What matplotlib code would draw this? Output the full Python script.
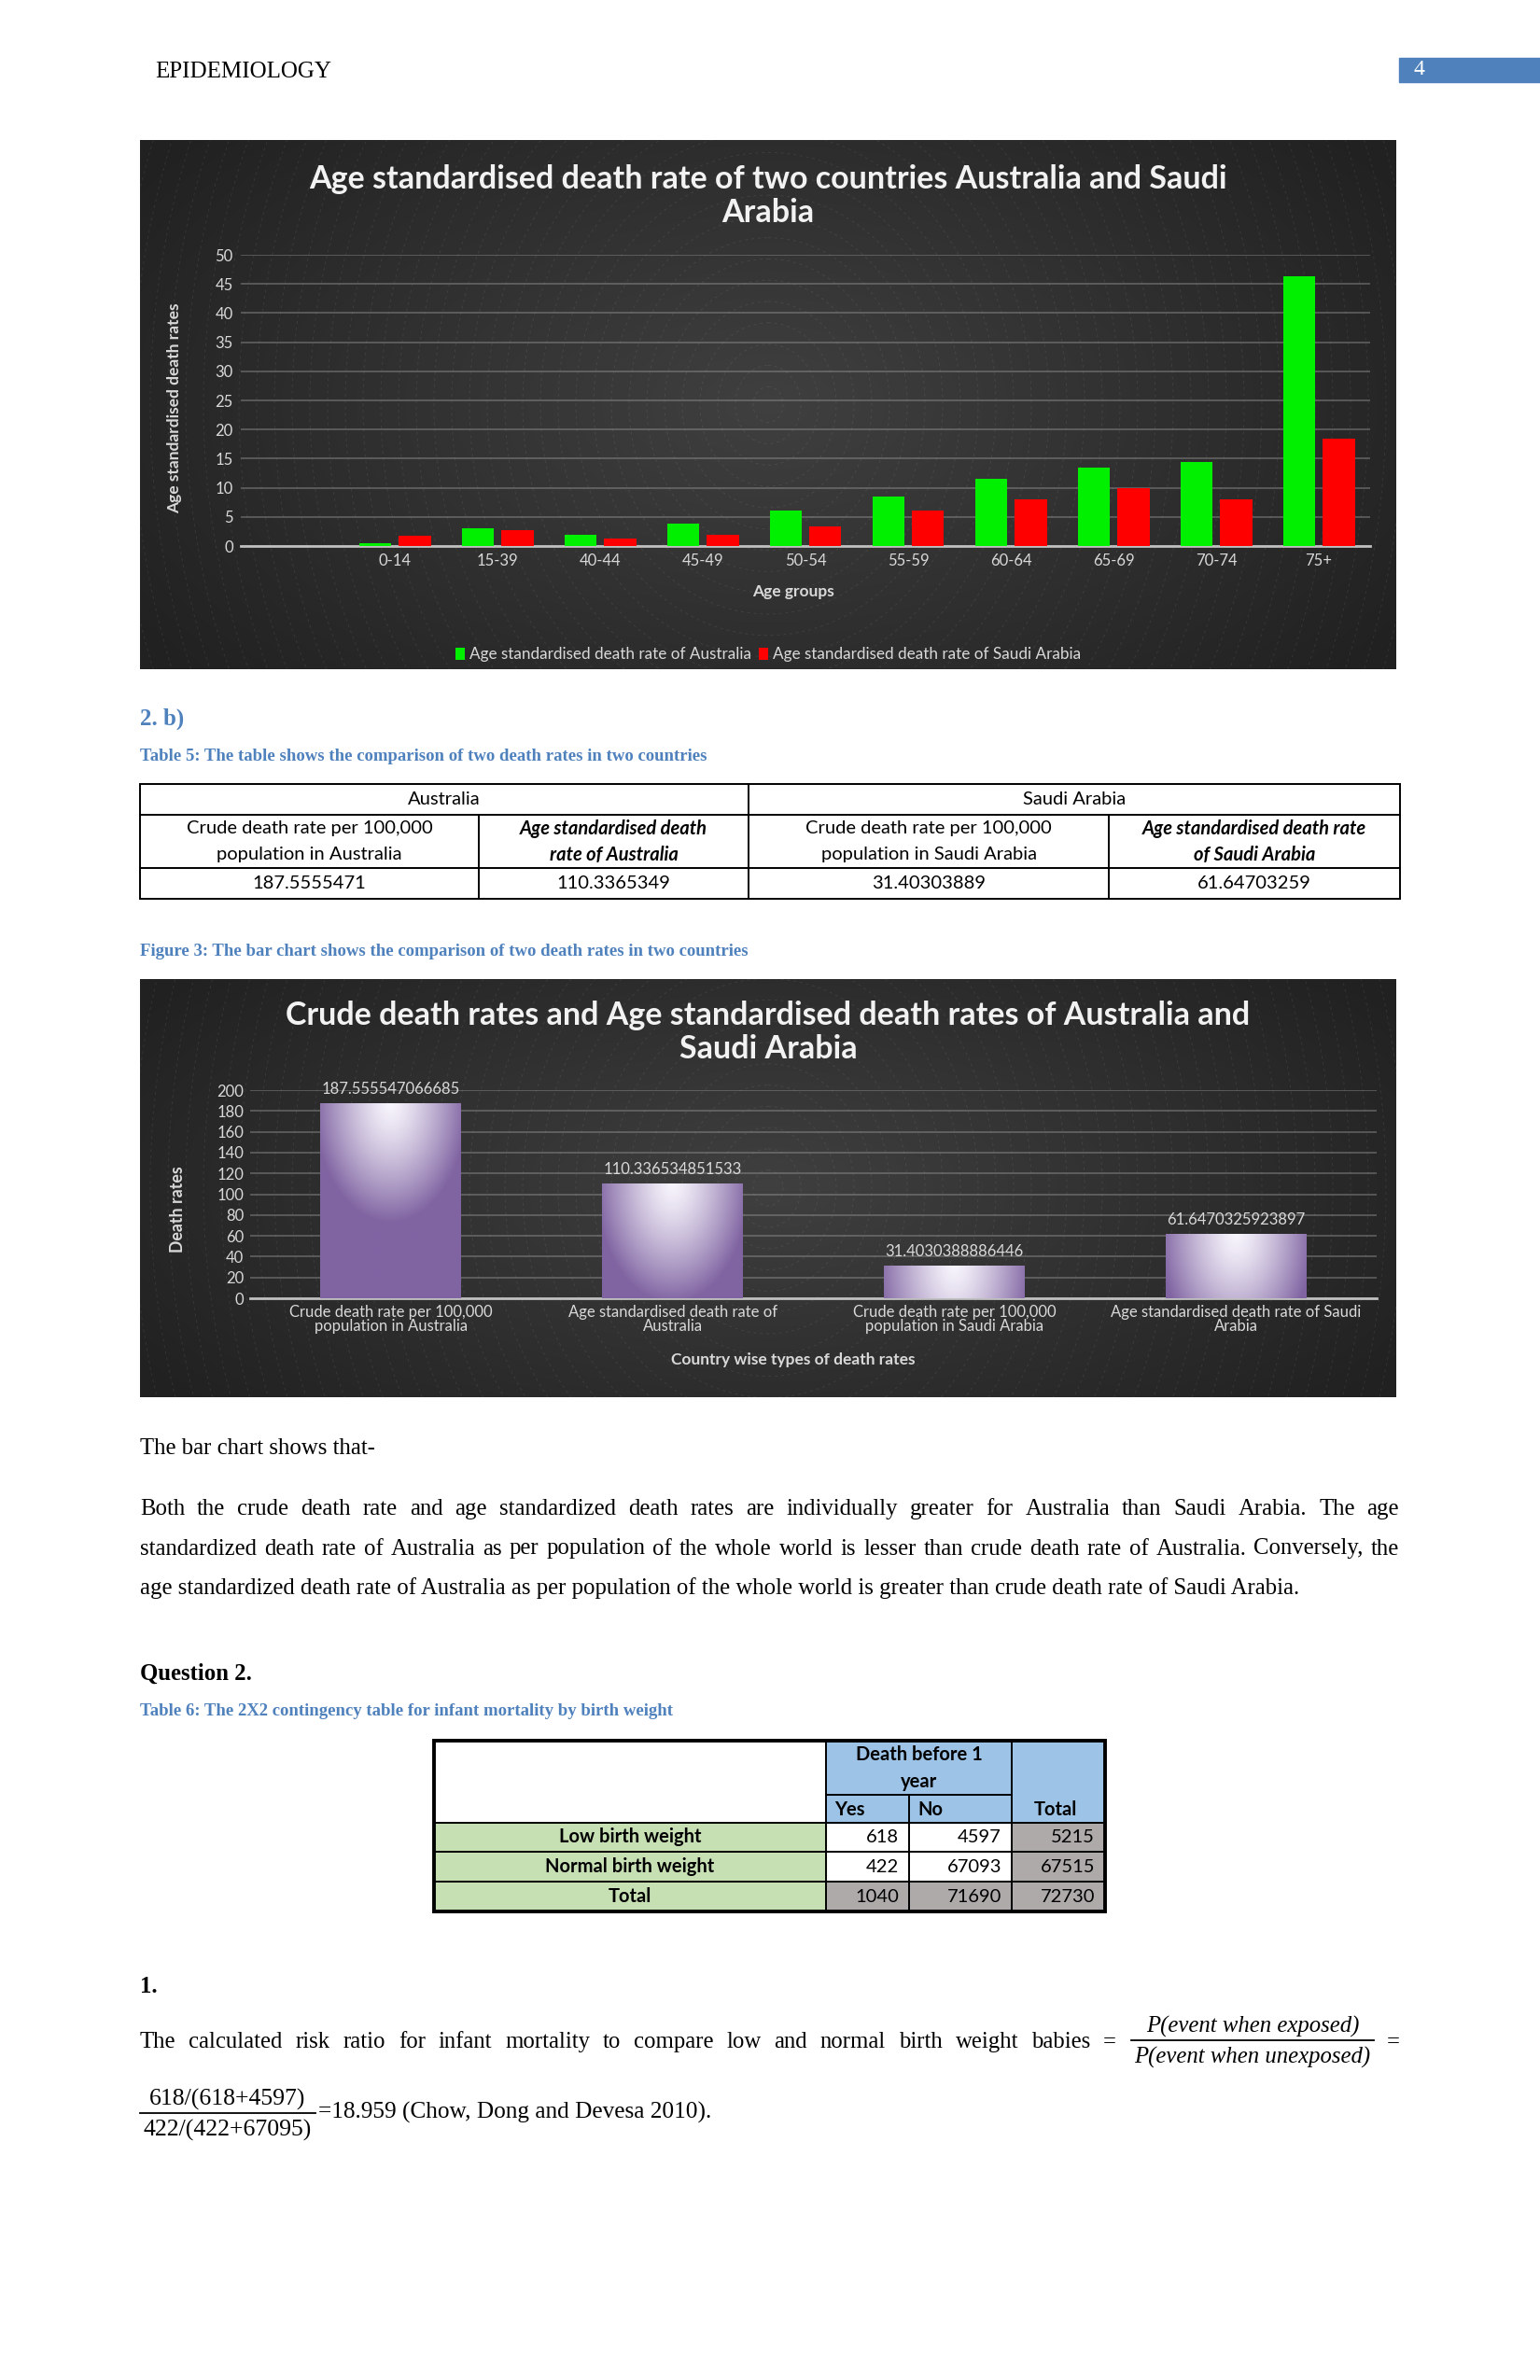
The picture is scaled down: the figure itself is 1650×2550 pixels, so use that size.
import numpy as np
import matplotlib.pyplot as plt
from matplotlib.patches import Rectangle, Ellipse

# ---- data ----
age_groups = ["0-14", "15-39", "40-44", "45-49", "50-54", "55-59", "60-64", "65-69", "70-74", "75+"]
aus_asdr = [0.45, 3.0, 2.0, 3.8, 6.1, 8.5, 11.5, 13.5, 14.5, 46.3]
sau_asdr = [1.7, 2.7, 1.3, 1.9, 3.4, 6.1, 8.0, 10.0, 8.0, 18.4]

rate_types = ["Crude death rate per 100,000\npopulation in Australia",
              "Age standardised death rate of\nAustralia",
              "Crude death rate per 100,000\npopulation in Saudi Arabia",
              "Age standardised death rate of Saudi\nArabia"]
rate_values = [187.555547066685, 110.336534851533, 31.4030388886446, 61.6470325923897]

t5_countries = ["Australia", "Saudi Arabia"]
t5_headers = [["Crude death rate per 100,000", "population in Australia"],
              ["Age standardised death", "rate of Australia"],
              ["Crude death rate per 100,000", "population in Saudi Arabia"],
              ["Age standardised death rate", "of Saudi Arabia"]]
t5_values = ["187.5555471", "110.3365349", "31.40303889", "61.64703259"]

t6_rows = ["Low birth weight", "Normal birth weight", "Total"]
t6_yes = [618, 422, 1040]
t6_no = [4597, 67093, 71690]
t6_total = [5215, 67515, 72730]

paragraph = [
    "Both the crude death rate and age standardized death rates are individually greater for Australia than Saudi Arabia. The age",
    "standardized death rate of Australia as per population of the whole world is lesser than crude death rate of Australia. Conversely, the",
    "age standardized death rate of Australia as per population of the whole world is greater than crude death rate of Saudi Arabia.",
]

BLUE = "#4f81bd"
SERIF = "Liberation Serif"
LIGHT = "#d9d9d9"
FS = 12          # chart text
FT = 14.5        # table text

plt.rcParams["font.family"] = ["Lato", "DejaVu Sans"]

W, H = 1650, 2550
fig = plt.figure(figsize=(W / 100, H / 100), dpi=100)
page = fig.add_axes([0, 0, 1, 1])
page.axis("off")
renderer = fig.canvas.get_renderer()


def axes_px(x0, y0, x1, y1):
    ax = fig.add_axes([x0 / W, 1 - y1 / H, (x1 - x0) / W, (y1 - y0) / H])
    ax.patch.set_alpha(0)
    return ax


def chart_bg(x0, y0, x1, y1):
    yy, xx = np.mgrid[0:1:300j, 0:1:700j]
    r = np.hypot((xx - 0.5) / 0.6, (yy - 0.5) / 0.8)
    shade = 0.25 - 0.12 * np.clip(r, 0, 1)
    page.imshow(np.dstack([shade] * 3), extent=(x0, x1, y1, y0), aspect="auto",
                zorder=0, interpolation="bilinear")
    clip = Rectangle((x0, y0), x1 - x0, y1 - y0, fc="none", ec="none")
    page.add_patch(clip)
    cx, cy = (x0 + x1) / 2, (y0 + y1) / 2
    for rr in np.arange(16, 950, 19):
        e = Ellipse((cx, cy), 2 * rr, 2 * rr * 1.2, fill=False, ec="white", lw=0.7,
                    ls=(0, (3, 4)), alpha=0.08, zorder=0.5)
        page.add_patch(e)
        e.set_clip_path(clip)


def justify(line, x0, x1, y, **kw):
    words = line.split()
    objs = [page.text(x0, y, w, va="baseline", **kw) for w in words]
    widths = [o.get_window_extent(renderer).width for o in objs]
    gap = (x1 - x0 - sum(widths)) / max(len(words) - 1, 1)
    x = x0
    for o, w in zip(objs, widths):
        o.set_x(x)
        x += w + gap


def fraction(xc, y, num, den, half, fs, style="normal"):
    page.plot([xc - half, xc + half], [y, y], color="black", lw=1.3)
    page.text(xc, y - 15, num, ha="center", va="center", fontsize=fs, family=SERIF, style=style)
    page.text(xc, y + 18, den, ha="center", va="center", fontsize=fs, family=SERIF, style=style)


# ---- header ----
page.text(166, 83, "EPIDEMIOLOGY", fontsize=18, family=SERIF, va="baseline")
page.add_patch(Rectangle((1499, 62), 151, 26, color=BLUE))
page.text(1520, 75, "4", fontsize=17, family=SERIF, color="white", ha="center", va="center")

# ---- chart 1 ----
chart_bg(150, 150, 1496, 717)
ax1 = axes_px(258, 273, 1468, 585)
x = np.arange(len(age_groups))
ax1.bar(x - 0.195, aus_asdr, 0.31, color="#00f000", zorder=3,
        label="Age standardised death rate of Australia")
ax1.bar(x + 0.195, sau_asdr, 0.31, color="#ff0000", zorder=3,
        label="Age standardised death rate of Saudi Arabia")
ax1.set_xlim(-1.5, len(age_groups) - 0.5)
ax1.set_ylim(0, 50)
ax1.set_yticks(range(0, 51, 5))
ax1.set_xticks(x, age_groups)
ax1.grid(axis="y", color="#9a9a9a", lw=1.3, alpha=0.45)
ax1.set_axisbelow(True)
for s in ["top", "right", "left"]:
    ax1.spines[s].set_visible(False)
ax1.spines["bottom"].set_color("#bfbfbf")
ax1.spines["bottom"].set_linewidth(2)
ax1.tick_params(length=0, colors=LIGHT, labelsize=FS, pad=6)
ax1.legend(loc="center", bbox_to_anchor=(823 / W, 1 - 701 / H), bbox_transform=fig.transFigure,
           ncol=2, frameon=False, fontsize=12.3, labelcolor=LIGHT, handlelength=0.55,
           handleheight=0.8, handletextpad=0.3, columnspacing=0.5)
page.text(823, 210, "Age standardised death rate of two countries Australia and Saudi\nArabia",
          ha="center", va="center", fontsize=24.5, fontweight="bold", color="#f2f2f2", linespacing=1.12)
page.text(187, 437, "Age standardised death rates", rotation=90, ha="center", va="center",
          fontsize=12.5, fontweight="bold", color=LIGHT)
page.text(850, 634, "Age groups", ha="center", va="center", fontsize=12.5, fontweight="bold", color=LIGHT)

# ---- 2. b) and table 5 ----
page.text(150, 777, "2. b)", fontsize=18, family=SERIF, fontweight="bold", color=BLUE, va="baseline")
page.text(150, 815, "Table 5: The table shows the comparison of two death rates in two countries",
          fontsize=13.5, family=SERIF, fontweight="bold", color=BLUE, va="baseline")

cx5 = [150, 513, 802, 1188, 1500]
ry5 = [840, 873, 930, 963]
lw5 = 1.4
page.add_patch(Rectangle((cx5[0], ry5[0]), cx5[-1] - cx5[0], ry5[-1] - ry5[0], fill=False, ec="black", lw=lw5))
for yy in ry5[1:3]:
    page.plot([cx5[0], cx5[-1]], [yy, yy], color="black", lw=lw5)
page.plot([cx5[2], cx5[2]], [ry5[0], ry5[3]], color="black", lw=lw5)
for xx in (cx5[1], cx5[3]):
    page.plot([xx, xx], [ry5[1], ry5[3]], color="black", lw=lw5)
for i, name in enumerate(t5_countries):
    page.text((cx5[2 * i] + cx5[2 * i + 2]) / 2, 857, name, ha="center", va="center", fontsize=FT)
for j in range(4):
    xc = (cx5[j] + cx5[j + 1]) / 2
    emph = dict(fontweight="bold", style="italic") if j % 2 else {}
    page.text(xc, 888, t5_headers[j][0], ha="center", va="center", fontsize=FT, **emph)
    page.text(xc, 916, t5_headers[j][1], ha="center", va="center", fontsize=FT, **emph)
    page.text(xc, 947, t5_values[j], ha="center", va="center", fontsize=FT)

page.text(150, 1024, "Figure 3: The bar chart shows the comparison of two death rates in two countries",
          fontsize=13.5, family=SERIF, fontweight="bold", color=BLUE, va="baseline")

# ---- chart 2 ----
chart_bg(150, 1049, 1496, 1497)
ax2 = axes_px(268, 1168, 1475, 1391)
x2 = np.arange(len(rate_values))
bars = ax2.bar(x2, rate_values, 0.5, color="#8064a2", zorder=3)
purple = np.array([0x80, 0x64, 0xa2]) / 255
white = np.array([0.97, 0.96, 0.99])
for b, v in zip(bars, rate_values):
    yy, xx = np.mgrid[0:1:200j, -1:1:100j]
    d = np.hypot(xx / 1.1, (yy * v) / 115)
    t = np.clip(d, 0, 1) ** 1.3
    img = white * (1 - t[..., None]) + purple * t[..., None]
    im = ax2.imshow(img, extent=(b.get_x(), b.get_x() + b.get_width(), 0, v), aspect="auto",
                    origin="upper", zorder=4, interpolation="bilinear")
    im.set_clip_path(b)
    ax2.annotate(f"{v:.15g}", (b.get_x() + b.get_width() / 2, v), xytext=(0, 5),
                 textcoords="offset points", ha="center", va="bottom", fontsize=FS, color=LIGHT)
ax2.set_xlim(-0.5, len(rate_values) - 0.5)
ax2.set_ylim(0, 200)
ax2.set_yticks(range(0, 201, 20))
ax2.set_xticks(x2, rate_types)
ax2.grid(axis="y", color="#9a9a9a", lw=1.3, alpha=0.45)
ax2.set_axisbelow(True)
for s in ["top", "right", "left"]:
    ax2.spines[s].set_visible(False)
ax2.spines["bottom"].set_color("#bfbfbf")
ax2.spines["bottom"].set_linewidth(2)
ax2.tick_params(length=0, colors=LIGHT, labelsize=FS, pad=5)
for lab in ax2.get_xticklabels():
    lab.set_linespacing(0.95)
page.text(823, 1106, "Crude death rates and Age standardised death rates of Australia and\nSaudi Arabia",
          ha="center", va="center", fontsize=24.5, fontweight="bold", color="#f2f2f2", linespacing=1.12)
page.text(190, 1296, "Death rates", rotation=90, ha="center", va="center",
          fontsize=12.8, fontweight="bold", color=LIGHT)
page.text(850, 1457, "Country wise types of death rates", ha="center", va="center",
          fontsize=12.5, fontweight="bold", color=LIGHT)

# ---- body text ----
body = dict(fontsize=17.8, family=SERIF)
page.text(150, 1558, "The bar chart shows that-", va="baseline", **body)
for k, line in enumerate(paragraph):
    yb = 1623 + k * 42.5
    if k < len(paragraph) - 1:
        justify(line, 150, 1499, yb, **body)
    else:
        page.text(150, yb, line, va="baseline", **body)

page.text(150, 1800, "Question 2.", va="baseline", fontweight="bold", **body)
page.text(150, 1838, "Table 6: The 2X2 contingency table for infant mortality by birth weight",
          fontsize=13.5, family=SERIF, fontweight="bold", color=BLUE, va="baseline")

# ---- table 6 ----
cx6 = [465, 885, 974, 1084, 1184]
ry6 = [1865, 1923, 1953, 1984, 2016, 2048]
HB, GR, GY = "#9dc3e6", "#c6e0b4", "#aeaaaa"
page.add_patch(Rectangle((cx6[1], ry6[0]), cx6[4] - cx6[1], ry6[2] - ry6[0], color=HB))
page.add_patch(Rectangle((cx6[0], ry6[2]), cx6[1] - cx6[0], ry6[5] - ry6[2], color=GR))
page.add_patch(Rectangle((cx6[3], ry6[2]), cx6[4] - cx6[3], ry6[4] - ry6[2], color=GY))
page.add_patch(Rectangle((cx6[1], ry6[4]), cx6[4] - cx6[1], ry6[5] - ry6[4], color=GY))
for yy in ry6[2:5]:
    page.plot([cx6[0], cx6[4]], [yy, yy], color="black", lw=1.4)
page.plot([cx6[1], cx6[3]], [ry6[1], ry6[1]], color="black", lw=1.4)
page.plot([cx6[2], cx6[2]], [ry6[1], ry6[5]], color="black", lw=1.4)
for xx in (cx6[1], cx6[3]):
    page.plot([xx, xx], [ry6[0], ry6[5]], color="black", lw=1.4)
page.add_patch(Rectangle((cx6[0], ry6[0]), cx6[4] - cx6[0], ry6[5] - ry6[0], fill=False, ec="black", lw=2.8))
tb = dict(fontsize=FT, va="center")
page.text((cx6[1] + cx6[3]) / 2, 1880, "Death before 1", ha="center", fontweight="bold", **tb)
page.text((cx6[1] + cx6[3]) / 2, 1909, "year", ha="center", fontweight="bold", **tb)
page.text(cx6[1] + 9, 1939, "Yes", ha="left", fontweight="bold", **tb)
page.text(cx6[2] + 9, 1939, "No", ha="left", fontweight="bold", **tb)
page.text(cx6[3] + 24, 1939, "Total", ha="left", fontweight="bold", **tb)
for i, name in enumerate(t6_rows):
    yc = (ry6[i + 2] + ry6[i + 3]) / 2
    page.text((cx6[0] + cx6[1]) / 2, yc, name, ha="center", fontweight="bold", **tb)
    for j, val in enumerate((t6_yes[i], t6_no[i], t6_total[i])):
        page.text(cx6[j + 2] - 11, yc, str(val), ha="right", **tb)

# ---- risk ratio ----
page.text(150, 2135, "1.", va="baseline", fontweight="bold", **body)
justify("The calculated risk ratio for infant mortality to compare low and normal birth weight babies =",
        150, 1196, 2194, **body)
fraction(1342, 2186, "P(event when exposed)", "P(event when unexposed)", 130, 17.8, "italic")
page.text(1486, 2194, "=", va="baseline", **body)
fraction(244, 2264, "618/(618+4597)", "422/(422+67095)", 94, 18.5)
page.text(341, 2270, "=18.959 (Chow, Dong and Devesa 2010).", va="baseline", fontsize=18.2, family=SERIF)

page.set_xlim(0, W)
page.set_ylim(H, 0)
fig.savefig("out.png", dpi=100, facecolor="white")
